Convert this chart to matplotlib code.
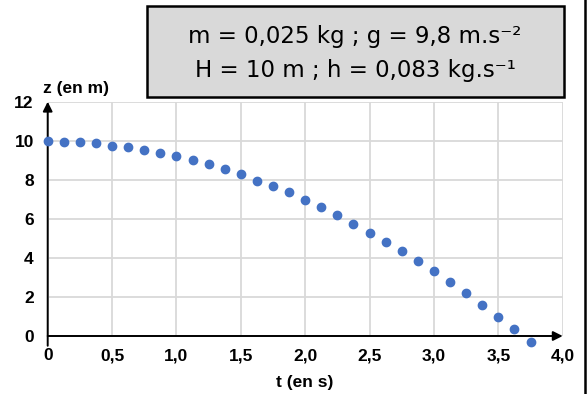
import matplotlib.pyplot as plt
from matplotlib.patches import Rectangle
from matplotlib.lines import Line2D

# data
t = [0.0, 0.125, 0.25, 0.375, 0.5, 0.625, 0.75, 0.875, 1.0, 1.125, 1.25,
     1.375, 1.5, 1.625, 1.75, 1.875, 2.0, 2.125, 2.25, 2.375, 2.5, 2.625,
     2.75, 2.875, 3.0, 3.125, 3.25, 3.375, 3.5, 3.625, 3.75]
z = [10.0, 9.96, 9.94, 9.86, 9.75, 9.67, 9.53, 9.38, 9.21, 9.0, 8.80,
     8.53, 8.29, 7.96, 7.68, 7.36, 6.96, 6.61, 6.20, 5.76, 5.30, 4.82,
     4.35, 3.85, 3.32, 2.76, 2.18, 1.60, 0.99, 0.37, -0.29]

xticks = [0, 0.5, 1.0, 1.5, 2.0, 2.5, 3.0, 3.5, 4.0]
xlabels = ['0', '0,5', '1,0', '1,5', '2,0', '2,5', '3,0', '3,5', '4,0']
yticks = [0, 2, 4, 6, 8, 10, 12]
ylabels = ['0', '2', '4', '6', '8', '10', '12']

line1 = 'm = 0,025 kg ; g = 9,8 m.s\u207b\u00b2'
line2 = 'H = 10 m ; h = 0,083 kg.s\u207b\u00b9'

W, H = 587, 394
fig = plt.figure(figsize=(W/100, H/100), dpi=100)

def fx(px):
    return px/W

def fy(py):
    return 1 - py/H

ax = fig.add_axes([fx(47.7), fy(336), fx(562.7)-fx(47.7), fy(101.7)-fy(336)])
ax.set_xlim(0, 4)
ax.set_ylim(0, 12)
for s in ax.spines.values():
    s.set_visible(False)

ax.set_xticks(xticks)
ax.set_xticklabels(xlabels, fontfamily='Liberation Sans', fontweight='bold', fontsize=12.5)
ax.set_yticks(yticks)
ax.set_yticklabels(ylabels, fontfamily='Liberation Sans', fontweight='bold', fontsize=12.5)
ax.tick_params(length=0, pad=9)
ax.tick_params(axis='y', pad=10)
ax.grid(True, color='#d9d9d9', lw=1.3)
ax.set_axisbelow(True)

# axes as arrows
ax.annotate('', xy=(4.0, 0), xytext=(0, 0),
            arrowprops=dict(arrowstyle='-|>', color='black', lw=1.4,
                            mutation_scale=14, shrinkA=0, shrinkB=0),
            annotation_clip=False)
ax.annotate('', xy=(0, 12), xytext=(0, -0.5),
            arrowprops=dict(arrowstyle='-|>', color='black', lw=1.4,
                            mutation_scale=14, shrinkA=0, shrinkB=0),
            annotation_clip=False)

ax.plot(t, z, 'o', color='#4472c4', ms=6, clip_on=False, zorder=5)

fig.text(fx(43), fy(89), 'z (en m)', fontfamily='Liberation Sans', fontweight='bold',
         fontsize=12.5, ha='left', va='center')
fig.text(fx(305), fy(382), 't (en s)', fontfamily='Liberation Sans', fontweight='bold',
         fontsize=12.5, ha='center', va='center')

# parameter box
fig.patches.append(Rectangle((fx(147), fy(97)), fx(564)-fx(147), fy(6)-fy(97),
                             transform=fig.transFigure, facecolor='#d9d9d9',
                             edgecolor='black', lw=1.8))
fig.text(fx(355), fy(37), line1, fontfamily='DejaVu Sans', fontsize=16.5,
         ha='center', va='center')
fig.text(fx(355), fy(70), line2, fontfamily='DejaVu Sans', fontsize=16.5,
         ha='center', va='center')

# right border
fig.add_artist(Line2D([fx(585), fx(585)], [0, 1], transform=fig.transFigure,
                      color='black', lw=1.8))

plt.savefig('out.png', dpi=100)
